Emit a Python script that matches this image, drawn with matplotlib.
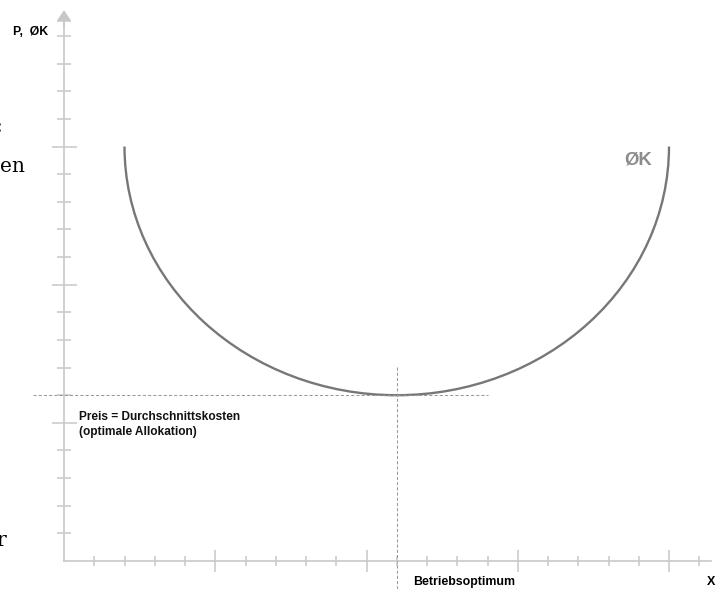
import matplotlib
matplotlib.use("Agg")
import matplotlib.pyplot as plt
from matplotlib.patches import Arc

# --- Daten ---
x_minor_ticks = list(range(1, 22))
x_major_ticks = [5, 10, 15, 20]
y_minor_ticks = list(range(1, 20))
y_major_ticks = [5, 10, 15]

ak_center = (11, 15)      # Mittelpunkt der ØK-Kurve
ak_radius = 9             # halbe Breite / Tiefe der Kurve
optimum_x = 11            # Betriebsoptimum
optimum_y = 6             # Preis = minimale Durchschnittskosten

axis_color = "#c8c8c8"
curve_color = "#777777"
guide_color = "#999999"

fig = plt.figure(figsize=(7.2, 5.89), dpi=100)
ax = fig.add_axes([0, 0, 1, 1])

# Skalen so, dass der Ursprung bei (64, 561) px liegt
ax.set_xlim(-64 / 30.25, (720 - 64) / 30.25)
ax.set_ylim(-(589 - 561) / 27.63, 561 / 27.63)

# Achsen
for side in ["top", "right"]:
    ax.spines[side].set_visible(False)
ax.spines["left"].set_position(("data", 0))
ax.spines["bottom"].set_position(("data", 0))
ax.spines["left"].set_bounds(0, 19.5)
ax.spines["bottom"].set_bounds(0, 21.4)
for side in ["left", "bottom"]:
    ax.spines[side].set_color(axis_color)
    ax.spines[side].set_linewidth(1.2)

ax.annotate("", xy=(0, 19.94), xytext=(0, 19.3),
            arrowprops=dict(arrowstyle="-|>,head_length=0.45,head_width=0.3",
                            color=axis_color, lw=1.2, mutation_scale=15,
                            shrinkA=0, shrinkB=0))
ax.annotate("", xy=(21.8, 0), xytext=(21.2, 0),
            arrowprops=dict(arrowstyle="-|>,head_length=0.45,head_width=0.3",
                            color=axis_color, lw=1.2, mutation_scale=15,
                            shrinkA=0, shrinkB=0))

ax.set_xticks(x_major_ticks)
ax.set_xticks([t for t in x_minor_ticks if t not in x_major_ticks], minor=True)
ax.set_yticks(y_major_ticks)
ax.set_yticks([t for t in y_minor_ticks if t not in y_major_ticks], minor=True)
ax.tick_params(axis="both", which="both", direction="inout", color=axis_color,
               width=1.1, labelbottom=False, labelleft=False)
ax.tick_params(axis="y", which="major", length=18)
ax.tick_params(axis="y", which="minor", length=9.4)
ax.tick_params(axis="x", which="major", length=15.8)
ax.tick_params(axis="x", which="minor", length=7.2)

# Hilfslinien
ax.plot([-1.02, 14.0], [optimum_y, optimum_y], color=guide_color, lw=0.75,
        dashes=(3, 2))
ax.plot([optimum_x, optimum_x], [7.02, -1.1], color=guide_color, lw=0.75,
        dashes=(3, 2))

# ØK-Kurve
ax.add_patch(Arc(ak_center, 2 * ak_radius, 2 * ak_radius, theta1=180,
                 theta2=360, color=curve_color, lw=1.7))

# Beschriftungen
sans = "Liberation Sans"
ax.text(-0.53, 19.15, "P,  ØK", ha="right", va="center", fontsize=8.8,
        fontweight="bold", family=sans)
ax.text(18.98, 14.51, "ØK", ha="center", va="center", fontsize=13.3,
        fontweight="bold", color="#8c8c8c", family=sans)
ax.text(0.5, 5.42, "Preis = Durchschnittskosten\n(optimale Allokation)",
        ha="left", va="top", fontsize=8.6, fontweight="bold", family=sans,
        linespacing=1.35, color="#111111")
ax.text(11.54, -0.76, "Betriebsoptimum", ha="left", va="center", fontsize=8.9,
        fontweight="bold", family=sans)
ax.text(21.39, -0.76, "X", ha="center", va="center", fontsize=9,
        fontweight="bold", family=sans)

# abgeschnittene Textreste am linken Rand (wie im Original)
serif = "DejaVu Serif"
fig.text(3 / 720, 1 - 127 / 589, ":", ha="right", va="center", fontsize=14.5,
         family=serif)
fig.text(25 / 720, 1 - 167 / 589, "en", ha="right", va="center", fontsize=14.5,
         family=serif)
fig.text(6 / 720, 1 - 541 / 589, "r", ha="right", va="center", fontsize=14.5,
         family=serif)

fig.savefig("out.png", dpi=100)
plt.close(fig)
